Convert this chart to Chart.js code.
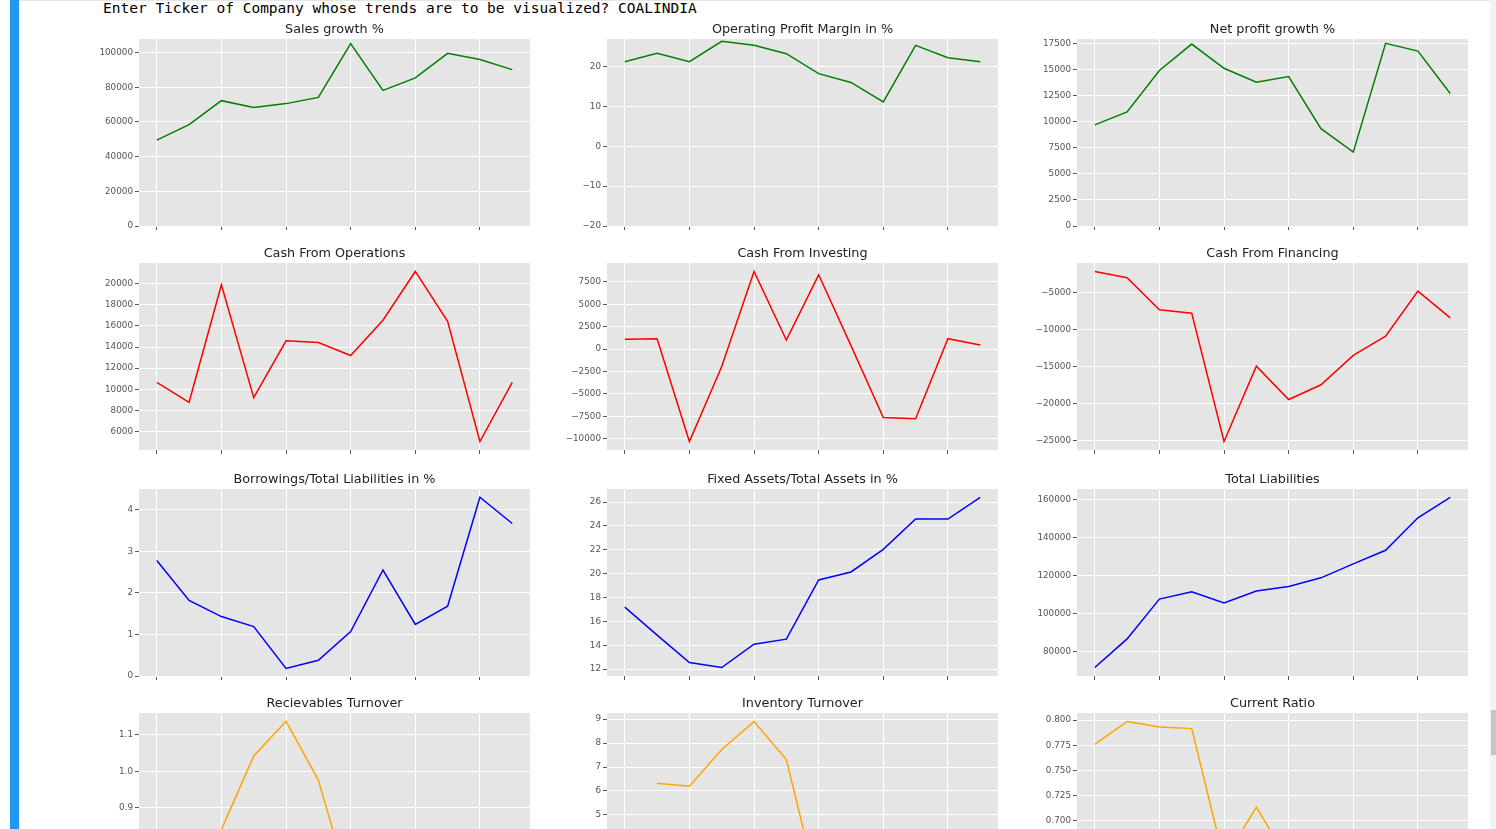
<!DOCTYPE html>
<html lang="en">

<head>
  <meta charset="UTF-8">
  <meta name="viewport" content="width=device-width, initial-scale=1.0">
  <title>COALINDIA trends</title>
  <script src="https://cdn.jsdelivr.net/npm/chart.js"></script>
  <style>
    body {
      margin: 0;
      background: #fff;
      width: 1496px;
      height: 829px;
      overflow: hidden;
      position: relative;
    }

    .cellbar {
      position: absolute;
      left: 10px;
      top: 0;
      width: 9px;
      height: 829px;
      background: #2196f3;
    }

    .topline {
      position: absolute;
      left: 19px;
      right: 0;
      top: 0;
      height: 1px;
      background: #e6e6e6;
    }

    .prompt {
      position: absolute;
      left: 103px;
      top: 0;
      font: 14.5px/17px "DejaVu Sans Mono", monospace;
      white-space: pre;
      color: #000;
    }

    .scroll {
      position: absolute;
      left: 1490px;
      top: 0;
      width: 6px;
      height: 829px;
      background: #f3f3f3;
    }

    .thumb {
      position: absolute;
      left: 1491px;
      top: 710px;
      width: 5px;
      height: 45px;
      background: #c4c4c4;
    }

    canvas {
      position: absolute;
    }
  </style>
</head>

<body>
  <div class="cellbar"></div>
  <div class="topline"></div>
  <div class="prompt">Enter Ticker of Company whose trends are to be visualized? COALINDIA</div>
  <div class="scroll"></div>
  <div class="thumb"></div>

  <script>
    // x positions (one per reported year)
    const periods = [0, 1, 2, 3, 4, 5, 6, 7, 8, 9, 10, 11];
    const xTicks = [0, 2, 4, 6, 8, 10];

    // values
    const salesGrowth = [49500, 58500, 72300, 68400, 70600, 74200, 105200, 78200, 85400, 99600, 96000, 90200];
    const opMargin = [21.2, 23.3, 21.2, 26.3, 25.3, 23.2, 18.2, 16.0, 11.1, 25.3, 22.2, 21.2];
    const netProfit = [9700, 10950, 14920, 17460, 15140, 13790, 14340, 9340, 7090, 17530, 16790, 12720];
    const cashOps = [10660, 8770, 19900, 9210, 14590, 14430, 13200, 16540, 21160, 16440, 5060, 10660];
    const cashInv = [1090, 1160, -10300, -1950, 8650, 1015, 8280, 380, -7630, -7770, 1160, 460];
    const cashFin = [-2120, -2970, -7300, -7760, -25140, -14940, -19450, -17460, -13490, -10880, -4780, -8390];
    const borrowPct = [2.78, 1.82, 1.43, 1.19, 0.18, 0.38, 1.07, 2.55, 1.24, 1.68, 4.30, 3.67];
    const fixedPct = [17.19, 14.85, 12.55, 12.13, 14.09, 14.51, 19.47, 20.14, 22.04, 24.58, 24.58, 26.39];
    const totalLiab = [71420, 86530, 107580, 111420, 105470, 111790, 114210, 118790, 126160, 133370, 150530, 161260];
    const recTurnover = [0.78, 0.74, 0.84, 1.042, 1.137, 0.976, 0.67, 0.70, 0.72, 0.74, 0.76, 0.80];
    const invTurnover = [null, 6.32, 6.2, 7.73, 8.9, 7.31, 1.79, 2.6, 2.9, 3.2, 3.5, 3.1];
    const currentRatio = [0.7758, 0.7986, 0.7931, 0.7915, 0.661, 0.7137, 0.660, 0.645, 0.63, 0.64, 0.655, 0.65];

    const panels = [
      { title: 'Sales growth %', values: salesGrowth, color: 'green', min: 0, max: 107900, step: 20000, dec: 0 },
      { title: 'Operating Profit Margin in %', values: opMargin, color: 'green', min: -20, max: 26.9, step: 10, dec: 0 },
      { title: 'Net profit growth %', values: netProfit, color: 'green', min: 0, max: 17950, step: 2500, dec: 0 },
      { title: 'Cash From Operations', values: cashOps, color: 'red', min: 4255, max: 21965, step: 2000, dec: 0 },
      { title: 'Cash From Investing', values: cashInv, color: 'red', min: -11250, max: 9600, step: 2500, dec: 0 },
      { title: 'Cash From Financing', values: cashFin, color: 'red', min: -26290, max: -965, step: 5000, dec: 0 },
      { title: 'Borrowings/Total Liabilities in %', values: borrowPct, color: 'blue', min: 0, max: 4.5, step: 1, dec: 0 },
      { title: 'Fixed Assets/Total Assets in %', values: fixedPct, color: 'blue', min: 11.42, max: 27.1, step: 2, dec: 0 },
      { title: 'Total Liabilities', values: totalLiab, color: 'blue', min: 66930, max: 165750, step: 20000, dec: 0 },
      { title: 'Recievables Turnover', values: recTurnover, color: 'orange', min: 0.647, max: 1.16, step: 0.1, dec: 1 },
      { title: 'Inventory Turnover', values: invTurnover, color: 'orange', min: 1.44, max: 9.26, step: 1, dec: 0 },
      { title: 'Current Ratio', values: currentRatio, color: 'orange', min: 0.6216, max: 0.807, step: 0.025, dec: 3 }
    ];

    // subplot grid (plot-area corners in page pixels)
    const colLeft = [139, 607, 1077];
    const rowTop = [39, 263, 489, 713];
    const plotW = 391, plotH = 187;
    const axisW = 62, titleH = 30, tickH = 8, padR = 4;

    // ggplot-like grey panel behind the grid
    const panelBg = {
      id: 'panelBg',
      beforeDraw(chart) {
        const { ctx, chartArea: a } = chart;
        ctx.save();
        ctx.fillStyle = '#e5e5e5';
        ctx.fillRect(a.left, a.top, a.width, a.height);
        ctx.restore();
      }
    };

    function fmt(v, dec) {
      return Number(v).toFixed(dec).replace('-', '\u2212');
    }

    // ticks on whole multiples of the step, like matplotlib's locator
    function stepTicks(min, max, step) {
      const out = [];
      for (let k = Math.ceil(min / step - 1e-9); k * step <= max + 1e-9; k++) {
        out.push({ value: Math.round(k * step * 1e6) / 1e6 });
      }
      return out;
    }

    panels.forEach((p, i) => {
      const canvas = document.createElement('canvas');
      canvas.width = axisW + plotW + padR;
      canvas.height = titleH + plotH + tickH;
      canvas.style.left = (colLeft[i % 3] - axisW) + 'px';
      canvas.style.top = (rowTop[Math.floor(i / 3)] - titleH) + 'px';
      document.body.appendChild(canvas);

      new Chart(canvas, {
        type: 'line',
        data: {
          datasets: [{
            data: periods.map((x, k) => ({ x: x, y: p.values[k] })),
            borderColor: p.color,
            borderWidth: 1.5,
            pointRadius: 0,
            tension: 0,
            fill: false
          }]
        },
        options: {
          responsive: false,
          animation: false,
          events: [],
          layout: { padding: { left: 0, right: padR, top: 0, bottom: 0 } },
          plugins: {
            legend: { display: false },
            tooltip: { enabled: false },
            title: {
              display: true,
              text: p.title,
              fullSize: false,
              color: '#222',
              font: { family: 'DejaVu Sans', size: 12.8, weight: 'normal', lineHeight: 1.2 },
              padding: { top: 12.6, bottom: 2.0 }
            }
          },
          scales: {
            x: {
              type: 'linear',
              min: -0.55,
              max: 11.55,
              afterBuildTicks: s => { s.ticks = xTicks.map(v => ({ value: v })); },
              afterFit: s => { s.height = tickH; },
              ticks: { display: false },
              grid: { color: '#fff', tickColor: '#555', tickLength: 4, lineWidth: 1 },
              border: { display: false }
            },
            y: {
              min: p.min,
              max: p.max,
              afterBuildTicks: s => { s.ticks = stepTicks(p.min, p.max, p.step); },
              afterFit: s => { s.width = axisW; },
              ticks: {
                color: '#555',
                padding: 2,
                font: { family: 'DejaVu Sans', size: 8.8 },
                callback: v => fmt(v, p.dec)
              },
              grid: { color: '#fff', tickColor: '#555', tickLength: 4, lineWidth: 1 },
              border: { display: false }
            }
          }
        },
        plugins: [panelBg]
      });
    });
  </script>
</body>

</html>
